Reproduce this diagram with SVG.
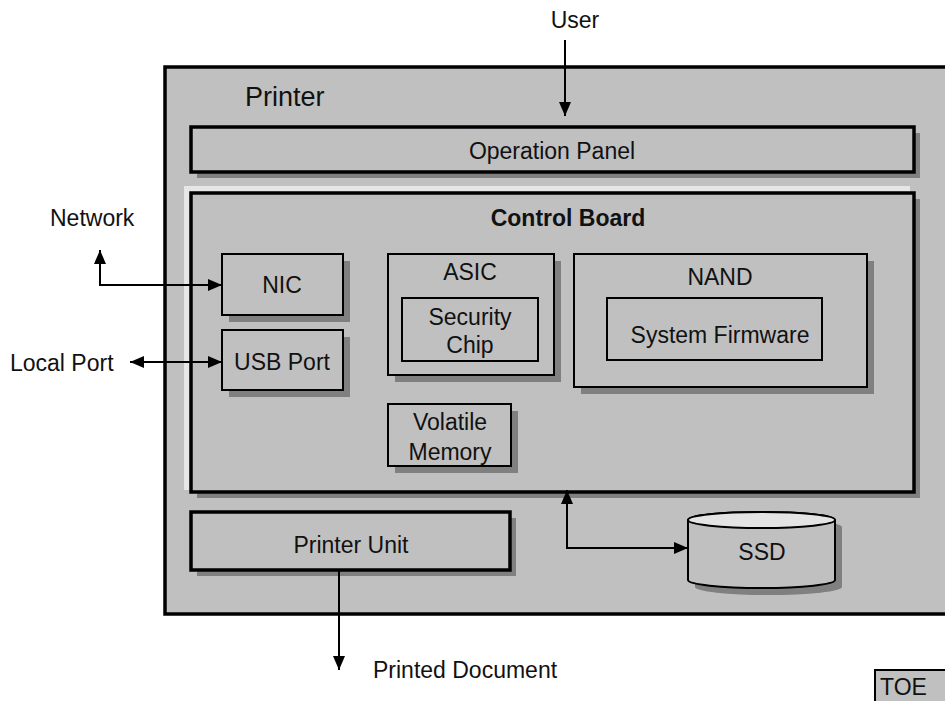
<svg xmlns="http://www.w3.org/2000/svg" width="945" height="701" viewBox="0 0 945 701">
<defs>
<style>
text{font-family:"Liberation Sans",Arial,sans-serif;font-size:23px;fill:#111}
.c{text-anchor:middle}
.b{font-weight:bold}
.thick{fill:#c0c0c0;stroke:#000;stroke-width:3.5}
.thin{fill:#c0c0c0;stroke:#000;stroke-width:2}
.sh{fill:#808080}
.con{fill:none;stroke:#000;stroke-width:2}
</style>
<marker id="ah" viewBox="0 0 14 12" refX="14" refY="6" markerWidth="14" markerHeight="12" markerUnits="userSpaceOnUse" orient="auto-start-reverse">
<path d="M0,0 L14,6 L0,12 z" fill="#000"/>
</marker>
</defs>
<rect width="945" height="701" fill="#fff"/>

<g id="printer">
<rect x="165" y="67" width="790" height="547" class="thick"/>
<text x="245" y="106" style="font-size:27px">Printer</text>
</g>

<g id="operation-panel">
<rect x="197" y="133" width="723" height="45" class="sh"/>
<rect x="191" y="127" width="723" height="45" class="thick"/>
<text x="552" y="159" class="c">Operation Panel</text>
</g>

<g id="control-board">
<rect x="184" y="186" width="726" height="304" fill="#e6e6e6"/>
<rect x="197" y="199" width="723" height="299" class="sh"/>
<rect x="191" y="193" width="723" height="299" class="thick"/>
<text x="568" y="226" class="c b">Control Board</text>
</g>

<g id="nic">
<rect x="229" y="261" width="121" height="61" class="sh"/>
<rect x="222" y="254" width="121" height="61" class="thin"/>
<text x="282" y="293" class="c">NIC</text>
</g>

<g id="usb-port">
<rect x="229" y="337" width="121" height="60" class="sh"/>
<rect x="222" y="330" width="121" height="60" class="thin"/>
<text x="282" y="370" class="c">USB Port</text>
</g>

<g id="asic">
<rect x="395" y="261" width="166" height="121" class="sh"/>
<rect x="388" y="254" width="166" height="121" class="thin"/>
<text x="470" y="280" class="c">ASIC</text>
</g>

<g id="security-chip">
<rect x="402" y="298" width="136" height="63" class="thin"/>
<text x="470" y="325" class="c">Security</text>
<text x="470" y="353" class="c">Chip</text>
</g>

<g id="nand">
<rect x="581" y="261" width="293" height="133" class="sh"/>
<rect x="574" y="254" width="293" height="133" class="thin"/>
<text x="720" y="285" class="c">NAND</text>
</g>

<g id="system-firmware">
<rect x="607" y="298" width="215" height="62" class="thin"/>
<text x="720" y="343" class="c">System Firmware</text>
</g>

<g id="volatile-memory">
<rect x="395" y="411" width="123" height="62" class="sh"/>
<rect x="388" y="404" width="123" height="62" class="thin"/>
<text x="450" y="430" class="c">Volatile</text>
<text x="450" y="460" class="c">Memory</text>
</g>

<g id="printer-unit">
<rect x="197" y="518" width="319" height="58" class="sh"/>
<rect x="191" y="512" width="319" height="58" class="thick"/>
<text x="351" y="553" class="c">Printer Unit</text>
</g>

<g id="ssd">
<path d="M695,527 A73.5,8 0 0 1 842,527 V587 A73.5,8 0 0 1 695,587 Z" class="sh"/>
<path d="M688,520 A73.5,8 0 0 1 835,520 V580 A73.5,8 0 0 1 688,580 Z" class="thin"/>
<ellipse cx="761.5" cy="520" rx="73.5" ry="8" fill="#e4e4e4" stroke="#000" stroke-width="2"/>
<text x="762" y="560" class="c">SSD</text>
</g>

<g id="toe">
<rect x="875" y="670" width="80" height="40" fill="#c0c0c0" stroke="#000" stroke-width="2"/>
<text x="880" y="695">TOE</text>
</g>

<g id="labels">
<text x="575" y="28" class="c">User</text>
<text x="50" y="226">Network</text>
<text x="10" y="371">Local Port</text>
<text x="373" y="678">Printed Document</text>
</g>

<g id="connectors">
<path d="M565,40 V116" class="con" marker-end="url(#ah)"/>
<path d="M222,285 H100 V250" class="con" marker-start="url(#ah)" marker-end="url(#ah)"/>
<path d="M130,362 H222" class="con" marker-start="url(#ah)" marker-end="url(#ah)"/>
<path d="M567,490 V548 H688" class="con" marker-start="url(#ah)" marker-end="url(#ah)"/>
<path d="M339,570 V670" class="con" marker-end="url(#ah)"/>
</g>
</svg>
